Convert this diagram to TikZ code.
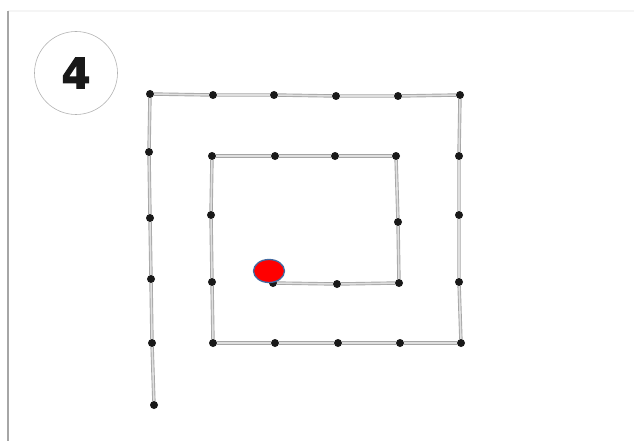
\documentclass[tikz,border=0pt]{standalone}
\usepackage{xcolor}
\usepackage{fontspec}
\usepackage{tikz}
\usetikzlibrary{shapes.geometric}
\newfontfamily\numfont{DejaVu Sans}[BoldFeatures={FakeBold=2.5}]

\definecolor{rimblue}{RGB}{65,105,160}

\begin{document}
\begin{tikzpicture}[
    x=1pt, y=-1pt,
    dot/.style={circle, fill=black!90, inner sep=0pt, minimum size=8pt},
    track/.style={draw=gray!70, line width=0.9pt, double=gray!25, double distance=1.6pt},
    marker/.style={ellipse, fill=red, draw=rimblue, line width=1.3pt, minimum width=31pt, minimum height=23pt, inner sep=0pt},
    badge/.style={circle, draw=gray!60, line width=0.6pt, minimum size=83pt, inner sep=0pt, text=black!90, font=\numfont\bfseries\fontsize{42}{42}\selectfont}
]
\useasboundingbox (0,0) rectangle (634,441);

% Frame
\draw[gray!8, line width=2pt] (8,11) -- (634,11);
\draw[gray!70, line width=1.3pt] (8,11) -- (8,441);

% Badge
\node (badge) [badge] at (76,73) {4};

% Nodes: outer left column
\node (o1) [dot] at (154,405) {};
\node (o2) [dot] at (152,343) {};
\node (o3) [dot] at (151,279) {};
\node (o4) [dot] at (150,218) {};
\node (o5) [dot] at (149,152) {};
\node (o6) [dot] at (150,94) {};
% outer top row
\node (t2) [dot] at (213,95) {};
\node (t3) [dot] at (274,95) {};
\node (t4) [dot] at (336,96) {};
\node (t5) [dot] at (398,96) {};
\node (r1) [dot] at (460,95) {};
% outer right column
\node (r2) [dot] at (459,156) {};
\node (r3) [dot] at (459,215) {};
\node (r4) [dot] at (459,282) {};
\node (r5) [dot] at (461,343) {};
% bottom row
\node (b2) [dot] at (400,343) {};
\node (b3) [dot] at (338,343) {};
\node (b4) [dot] at (275,343) {};
\node (b5) [dot] at (213,343) {};
% inner left column
\node (l2) [dot] at (212,282) {};
\node (l3) [dot] at (211,215) {};
\node (l4) [dot] at (212,156) {};
% inner top row
\node (i2) [dot] at (275,156) {};
\node (i3) [dot] at (335,156) {};
\node (i4) [dot] at (396,156) {};
% inner right column
\node (j2) [dot] at (398,222) {};
\node (j3) [dot] at (399,283) {};
% inner bottom row
\node (k2) [dot] at (337,284) {};
\node (k3) [dot] at (273,283) {};

% Lines
\draw [track] (o1) -- (o2) -- (o3) -- (o4) -- (o5) -- (o6);
\draw [track] (o6) -- (t2) -- (t3) -- (t4) -- (t5) -- (r1);
\draw [track] (r1) -- (r2) -- (r3) -- (r4) -- (r5);
\draw [track] (r5) -- (b2) -- (b3) -- (b4) -- (b5);
\draw [track] (b5) -- (l2) -- (l3) -- (l4);
\draw [track] (l4) -- (i2) -- (i3) -- (i4);
\draw [track] (i4) -- (j2) -- (j3);
\draw [track] (j3) -- (k2) -- (k3);

% Marker
\node (start) [marker] at (269,271) {};

\end{tikzpicture}
\end{document}
